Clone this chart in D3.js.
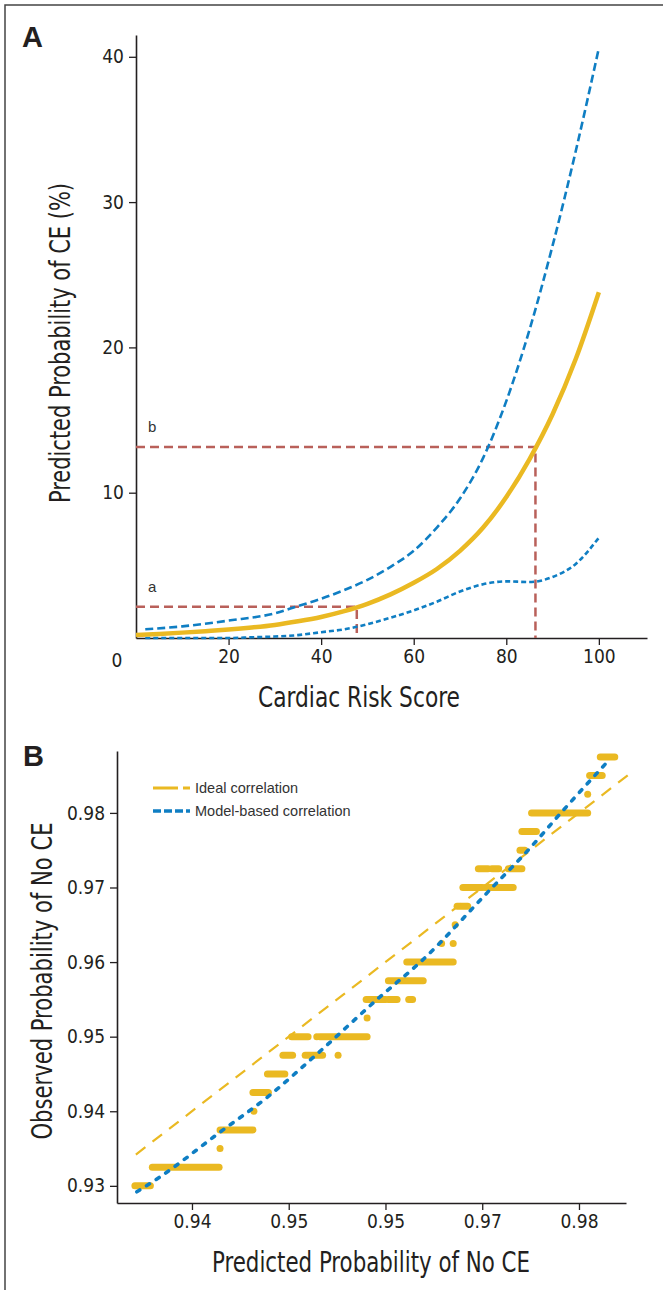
<!DOCTYPE html>
<html>
<head>
<meta charset="utf-8">
<script src="https://cdn.jsdelivr.net/npm/d3@7"></script>
<style>
  body { margin: 0; background: #fff; }
  svg { display: block; }
  .cond { font-family: "Liberation Sans Narrow", "Arial Narrow", "DejaVu Sans Condensed", sans-serif; }
  .reg { font-family: "Liberation Sans", Arial, sans-serif; }
</style>
</head>
<body>
<svg id="chart" width="663" height="1290"></svg>
<script>
// ---- panel A data (Cardiac Risk Score vs predicted probability, %) ----
var predScore = [0, 5, 10, 15, 20, 25, 30, 35, 40, 45, 50, 55, 60, 65, 70, 75, 80, 85, 90, 95, 100];
var predProb  = [0.2, 0.28, 0.37, 0.47, 0.58, 0.72, 0.9, 1.15, 1.45, 1.85, 2.35, 3.0, 3.8, 4.75, 6.0, 7.6, 9.7, 12.3, 15.4, 19.2, 23.8];
var upperScore = [2, 10, 20, 30, 35, 40, 45, 50, 55, 60, 65, 70, 75, 80, 85, 90, 95, 100];
var upperProb  = [0.6, 0.8, 1.2, 1.7, 2.2, 2.7, 3.3, 4.0, 4.9, 6.0, 7.6, 9.6, 12.4, 16.3, 21.2, 27.0, 33.5, 40.6];
var lowerScore = [2, 10, 20, 25, 30, 35, 40, 45, 50, 55, 60, 65, 70, 75, 80, 85, 90, 95, 100];
var lowerProb  = [0.0, 0.0, 0.0, 0.05, 0.1, 0.2, 0.4, 0.6, 0.95, 1.4, 1.9, 2.5, 3.2, 3.7, 3.9, 3.85, 4.2, 5.1, 6.9];
var cutScore  = [47.7, 86.3];
var cutProb   = [2.15, 13.15];
var cutLabels = ["a", "b"];
var xTicksA = [20, 40, 60, 80, 100];
var yTicksA = [10, 20, 30, 40];

// ---- panel B data (calibration) ----
var idealRange = [0.9342, 0.9853];
var modelPred = [0.9343, 0.9367, 0.9429, 0.9478, 0.9532, 0.9594, 0.9636, 0.9711, 0.9746, 0.9782, 0.9829];
var modelObs  = [0.9292, 0.9312, 0.9372, 0.9419, 0.9480, 0.9553, 0.9600, 0.9701, 0.9748, 0.9801, 0.9868];
// observed level, predicted from, predicted to (yellow runs of points)
var segObs  = [0.930, 0.9325, 0.935, 0.9375, 0.940, 0.9425, 0.945, 0.9475, 0.9475, 0.9475, 0.950, 0.950, 0.950, 0.9525,
               0.955, 0.955, 0.955, 0.9575, 0.960, 0.9625, 0.9625, 0.965, 0.9675, 0.970, 0.970, 0.9725, 0.9725, 0.9725,
               0.975, 0.9775, 0.980, 0.9825, 0.985, 0.9875];
var segFrom = [0.9341, 0.9359, 0.9429, 0.9429, 0.9464, 0.9463, 0.9478, 0.9494, 0.9517, 0.9551, 0.9503, 0.9529, 0.9532, 0.9581,
               0.9580, 0.9603, 0.9624, 0.9603, 0.9622, 0.9658, 0.9670, 0.9672, 0.9674, 0.9680, 0.9703, 0.9696, 0.9710, 0.9727,
               0.9739, 0.9741, 0.9751, 0.9809, 0.9811, 0.9822];
var segTo   = [0.9357, 0.9428, 0.9429, 0.9463, 0.9464, 0.9479, 0.9496, 0.9504, 0.9535, 0.9551, 0.9520, 0.9529, 0.9581, 0.9581,
               0.9600, 0.9612, 0.9628, 0.9639, 0.9670, 0.9658, 0.9670, 0.9672, 0.9685, 0.9700, 0.9732, 0.9706, 0.9717, 0.9741,
               0.9744, 0.9756, 0.9809, 0.9809, 0.9824, 0.9837];
var xTicksB = [0.94, 0.95, 0.96, 0.97, 0.98];
var xLabelsB = ["0.94", "0.95", "0.95", "0.97", "0.98"];
var yTicksB = [0.93, 0.94, 0.95, 0.96, 0.97, 0.98];
var legendLabels = ["Ideal correlation", "Model-based correlation"];

var yellow = "#EAB922", blue = "#0F7EC3", red = "#B9605A", ink = "#231F20";

var svg = d3.select("#chart");

// frame
svg.append("path").attr("d", "M5,1290 L5,5 L663,5")
  .attr("fill", "none").attr("stroke", "#444").attr("stroke-width", 1.5);

function styleAxis(g) {
  g.select(".domain").attr("stroke", ink).attr("stroke-width", 1.6);
  g.selectAll(".tick line").attr("stroke", ink).attr("stroke-width", 1.3);
  g.selectAll(".tick text").attr("class", "cond").attr("fill", ink).style("font-size", "19px");
}

// axis titles are squeezed to the width of the condensed face in the original
function title(txt, x, y, len, rot) {
  return svg.append("text").text(txt).attr("class", "cond")
    .attr("transform", "translate(" + x + "," + y + ")" + (rot ? " rotate(-90)" : ""))
    .attr("text-anchor", "middle")
    .attr("textLength", len).attr("lengthAdjust", "spacingAndGlyphs")
    .style("font-size", "29px").attr("fill", ink);
}

// ================= Panel A =================
var xA = d3.scaleLinear().domain([0, 110.4]).range([136, 647]);
var yA = d3.scaleLinear().domain([0, 41.5]).range([638, 35]);

svg.append("text").text("A").attr("class", "reg")
  .attr("x", 22).attr("y", 47).attr("font-weight", "bold").style("font-size", "29px").attr("fill", ink);

svg.append("g").attr("transform", "translate(0," + yA(0) + ")")
  .call(d3.axisBottom(xA).tickValues(xTicksA).tickSize(7).tickSizeOuter(0).tickPadding(5))
  .call(styleAxis);
svg.append("g").attr("transform", "translate(" + xA(0) + ",0)")
  .call(d3.axisLeft(yA).tickValues(yTicksA).tickSize(7).tickSizeOuter(0).tickPadding(5))
  .call(styleAxis);
svg.append("text").text("0").attr("class", "cond")
  .attr("x", xA(0) - 19).attr("y", yA(0) + 29).attr("text-anchor", "middle")
  .style("font-size", "19px").attr("fill", ink);

title("Cardiac Risk Score", 359, 707, 202, false);
title("Predicted Probability of CE (%)", 70, 343, 320, true);

// cut-off guides
cutScore.forEach(function(s, i) {
  svg.append("path")
    .attr("d", "M" + xA(0) + "," + yA(cutProb[i]) + " L" + xA(s) + "," + yA(cutProb[i]) + " L" + xA(s) + "," + yA(0))
    .attr("fill", "none").attr("stroke", red).attr("stroke-width", 2.5).attr("stroke-dasharray", "9,5");
  svg.append("text").text(cutLabels[i]).attr("class", "reg")
    .attr("x", xA(0) + 12).attr("y", yA(cutProb[i]) - 15)
    .style("font-size", "15px").attr("fill", "#333");
});

var lineA = d3.line().curve(d3.curveMonotoneX)
  .x(function(d) { return xA(d[0]); }).y(function(d) { return yA(d[1]); });

svg.append("path").datum(d3.zip(lowerScore, lowerProb)).attr("d", lineA)
  .attr("fill", "none").attr("stroke", blue).attr("stroke-width", 2.6).attr("stroke-dasharray", "5,3");
svg.append("path").datum(d3.zip(upperScore, upperProb)).attr("d", lineA)
  .attr("fill", "none").attr("stroke", blue).attr("stroke-width", 2.6).attr("stroke-dasharray", "8,4");
svg.append("path").datum(d3.zip(predScore, predProb)).attr("d", lineA)
  .attr("fill", "none").attr("stroke", yellow).attr("stroke-width", 4.5);

// ================= Panel B =================
var xB = d3.scaleLinear().domain([0.93225, 0.98486]).range([117, 626]);
var yB = d3.scaleLinear().domain([0.9277, 0.9883]).range([1203, 751]);

svg.append("text").text("B").attr("class", "reg")
  .attr("x", 23).attr("y", 766).attr("font-weight", "bold").style("font-size", "29px").attr("fill", ink);

svg.append("g").attr("transform", "translate(0," + yB.range()[0] + ")")
  .call(d3.axisBottom(xB).tickValues(xTicksB).tickSize(7).tickSizeOuter(0).tickPadding(5)
    .tickFormat(function(d, i) { return xLabelsB[i]; }))
  .call(styleAxis);
svg.append("g").attr("transform", "translate(" + xB.range()[0] + ",0)")
  .call(d3.axisLeft(yB).tickValues(yTicksB).tickSize(7).tickSizeOuter(0).tickPadding(5)
    .tickFormat(d3.format(".2f")))
  .call(styleAxis);

title("Predicted Probability of No CE", 371, 1272, 318, false);
title("Observed Probability of No CE", 52, 981, 317, true);

// observed points (runs)
svg.append("g").selectAll("line").data(segObs).enter().append("line")
  .attr("x1", function(d, i) { return xB(segFrom[i]); })
  .attr("x2", function(d, i) { return xB(segTo[i]); })
  .attr("y1", function(d) { return yB(d); })
  .attr("y2", function(d) { return yB(d); })
  .attr("stroke", yellow).attr("stroke-width", 7).attr("stroke-linecap", "round");

svg.append("path").datum(idealRange.map(function(v) { return [v, v]; }))
  .attr("d", d3.line().x(function(d) { return xB(d[0]); }).y(function(d) { return yB(d[1]); }))
  .attr("fill", "none").attr("stroke", yellow).attr("stroke-width", 2.2).attr("stroke-dasharray", "12,9");

svg.append("path").datum(d3.zip(modelPred, modelObs))
  .attr("d", d3.line().curve(d3.curveMonotoneX).x(function(d) { return xB(d[0]); }).y(function(d) { return yB(d[1]); }))
  .attr("fill", "none").attr("stroke", blue).attr("stroke-width", 3.6)
  .attr("stroke-dasharray", "3.5,8").attr("stroke-linecap", "round");

// legend
var leg = svg.append("g").attr("transform", "translate(153,788)");
leg.selectAll("line").data(legendLabels).enter().append("line")
  .attr("x1", 0).attr("x2", 37)
  .attr("y1", function(d, i) { return i * 23; }).attr("y2", function(d, i) { return i * 23; })
  .attr("stroke", function(d, i) { return i == 0 ? yellow : blue; })
  .attr("stroke-width", function(d, i) { return i == 0 ? 3 : 3.5; })
  .attr("stroke-dasharray", function(d, i) { return i == 0 ? "25,5" : "8,3"; });
leg.selectAll("text").data(legendLabels).enter().append("text")
  .attr("class", "reg").text(function(d) { return d; })
  .attr("x", 42).attr("y", function(d, i) { return i * 23 + 5; })
  .style("font-size", "14.5px").attr("fill", "#333");
</script>
</body>
</html>
